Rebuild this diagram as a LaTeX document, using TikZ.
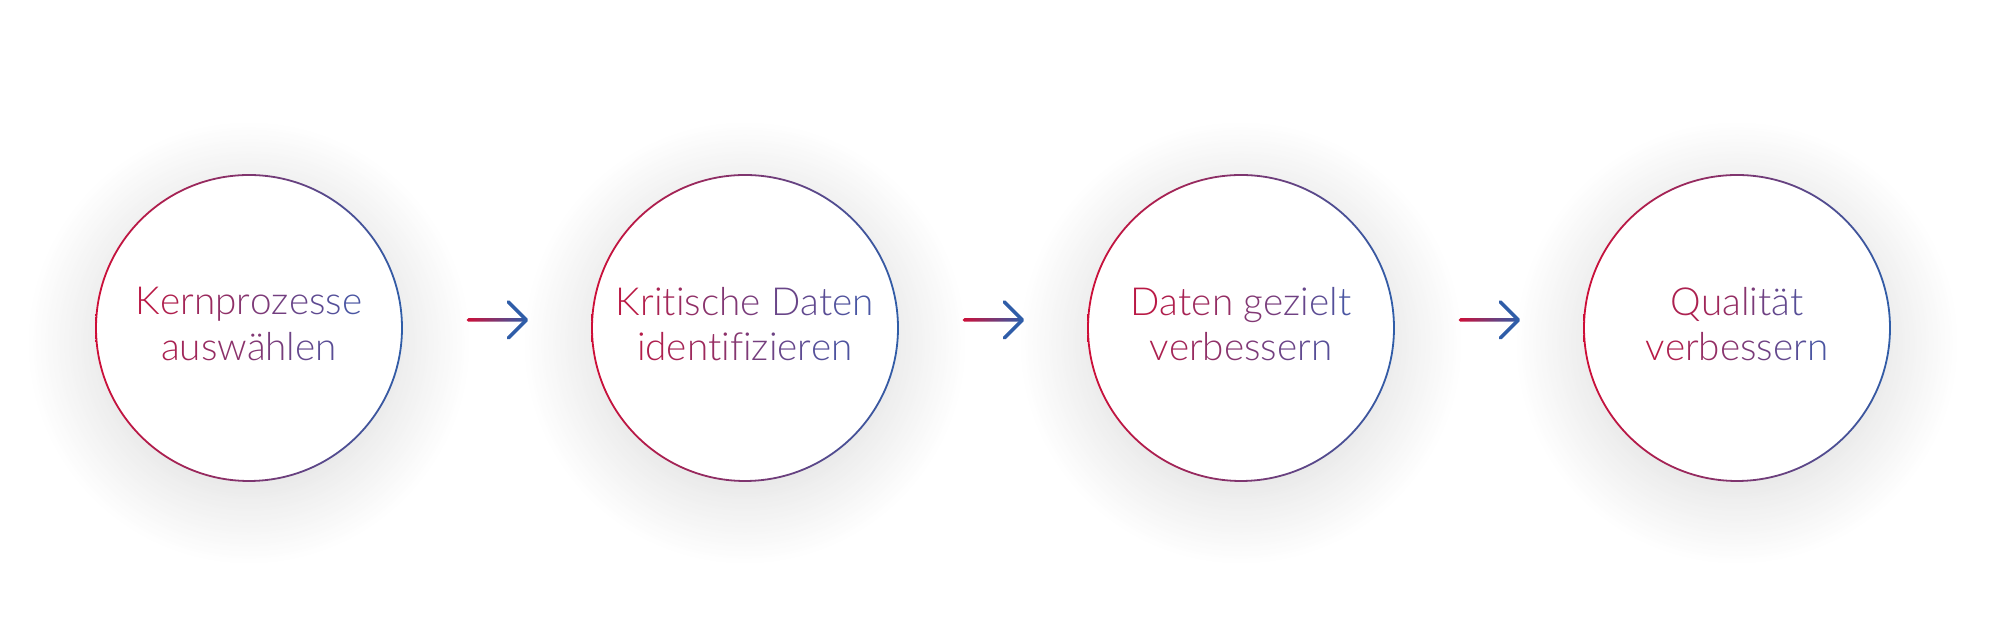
\documentclass[tikz,border=0pt]{standalone}
\usepackage{fontspec}
\setmainfont{Lato}[UprightFont=* Light]
\usepackage{tikz}
\usetikzlibrary{matrix,shadows.blur}

\definecolor{circred}{HTML}{CE0E37}
\definecolor{circblue}{HTML}{2F5DA8}
\definecolor{txtred}{HTML}{BE1741}
\definecolor{txtblue}{HTML}{4558A6}

% colour each letter of a line from red to blue
\ExplSyntaxOn
\tl_new:N \l_grad_tl
\int_new:N \l_grad_len_int
\int_new:N \l_grad_idx_int
\cs_new_protected:Npn \grad_char:nn #1#2 { \textcolor{txtblue!#1!txtred}{#2} }
\cs_generate_variant:Nn \grad_char:nn { en }
\NewDocumentCommand \gradline { m m }
  {
    \tl_set:Nn \l_grad_tl {#2}
    \tl_replace_all:Nnn \l_grad_tl { ~ } { \nobreakspace }
    \int_set:Nn \l_grad_len_int { \tl_count:N \l_grad_tl }
    \int_zero:N \l_grad_idx_int
    \tl_map_inline:Nn \l_grad_tl
      {
        \int_incr:N \l_grad_idx_int
        \grad_char:en
          { \fp_eval:n { round(100*((#1-\l_grad_len_int)/2+\l_grad_idx_int-0.5)/#1) } }
          {##1}
      }
  }
\ExplSyntaxOff

\tikzset{
  stepcirc/.style={circle, fill=white, minimum size=3.06cm, inner sep=0pt,
    align=center, font=\fontsize{11}{13}\selectfont,
    execute at end node={\rule[-2.3pt]{0pt}{0pt}},
    blur shadow={shadow xshift=0cm, shadow yshift=-0.15cm,
      shadow blur radius=0.7cm, shadow blur steps=30, shadow opacity=14}},
  ring/.style={left color=circred, right color=circblue, even odd rule},
  shaft/.style={left color=circred, right color=circblue, rounded corners=0.5pt},
  head/.style={circblue, line width=1pt, line cap=round, line join=round}
}

\begin{document}
\begin{tikzpicture}
\useasboundingbox (0,0) rectangle (20,6.44);

\matrix (mat) [column sep=1.9cm] at (9.93,3.16)
{
    \node[stepcirc] (kern) {\gradline{12}{Kernprozesse}\\\gradline{12}{auswählen}}; &
    \node[stepcirc] (krit) {\gradline{15}{Kritische Daten}\\\gradline{15}{identifizieren}}; &
    \node[stepcirc] (gezielt) {\gradline{13}{Daten gezielt}\\\gradline{13}{verbessern}}; &
    \node[stepcirc] (quali) {\gradline{10}{Qualität}\\\gradline{10}{verbessern}}; \\
};

% outlines, red on the left, blue on the right
\foreach \n in {kern, krit, gezielt, quali}
  \shade[ring] (\n.center) circle[radius=1.539cm] circle[radius=1.521cm];

% arrows between the steps
\foreach \from/\to in {kern/krit, krit/gezielt, gezielt/quali} {
  \coordinate (\from-out) at ([xshift=0.64cm, yshift=0.08cm]\from.east);
  \coordinate (\to-in) at ([xshift=-0.65cm, yshift=0.08cm]\to.west);
  \shade[shaft] ([yshift=0.5pt]\from-out) rectangle ([yshift=-0.5pt]\to-in);
  \draw[head] ([shift={(-0.18,0.18)}]\to-in) -- (\to-in) -- ([shift={(-0.18,-0.18)}]\to-in);
}

\end{tikzpicture}
\end{document}
